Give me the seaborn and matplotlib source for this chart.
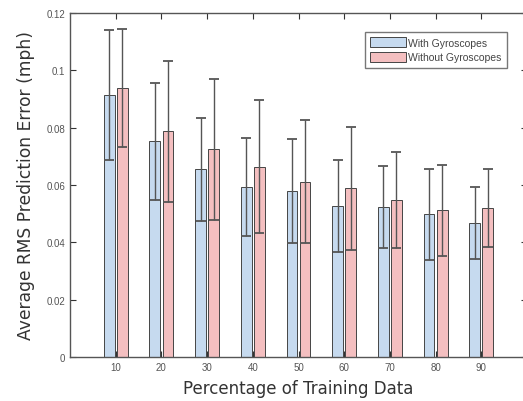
import matplotlib
matplotlib.use("Agg")
import matplotlib.pyplot as plt
import seaborn as sns
import pandas as pd
import numpy as np

percent = [10, 20, 30, 40, 50, 60, 70, 80, 90]
with_gyro = [0.0914, 0.0752, 0.0655, 0.0593, 0.0579, 0.0528, 0.0522, 0.0498, 0.0468]
without_gyro = [0.0938, 0.0788, 0.0724, 0.0664, 0.0612, 0.0588, 0.0548, 0.0512, 0.0520]
with_err = [0.0228, 0.0205, 0.0180, 0.0172, 0.0182, 0.0160, 0.0143, 0.0158, 0.0126]
without_err = [0.0207, 0.0246, 0.0245, 0.0232, 0.0216, 0.0213, 0.0167, 0.0158, 0.0137]
series = ["With Gyroscopes", "Without Gyroscopes"]
yticks = [0, 0.02, 0.04, 0.06, 0.08, 0.1, 0.12]

df = pd.DataFrame({
    "pct": [str(p) for p in percent] * 2,
    "val": with_gyro + without_gyro,
    "err": with_err + without_err,
    "series": [series[0]] * len(percent) + [series[1]] * len(percent),
})

sns.set_style("white")
plt.rcParams["font.family"] = ["DejaVu Sans"]

fig = plt.figure(figsize=(5.23, 4.02), dpi=100)
ax = fig.add_axes([70 / 523, 44 / 402, 457 / 523, 344 / 402])

colors = ["#c6daef", "#f4bfc0"]
sns.barplot(data=df, x="pct", y="val", hue="series", palette=colors, saturation=1,
            width=0.57, gap=0.17, edgecolor="#454545", linewidth=0.7,
            errorbar=None, ax=ax, legend=True)

# error bars at bar centers
bars = [p for p in ax.patches if p.get_height() > 0]
for s_i, s in enumerate(series):
    sub = df[df["series"] == s]
    sbars = bars[s_i * len(percent):(s_i + 1) * len(percent)]
    xs = [b.get_x() + b.get_width() / 2 for b in sbars]
    ax.errorbar(xs, sub["val"].values, yerr=sub["err"].values, fmt="none",
                ecolor="#555555", elinewidth=1.0, capsize=3.3, capthick=1.3, zorder=5)

ax.set_xlim(-1, 9)
ax.set_ylim(0, 0.12)
ax.set_yticks(yticks)
ax.set_yticklabels([f"{t:g}" for t in yticks])
ax.tick_params(direction="in", length=4, width=0.8, colors="#333333",
               top=True, right=True, bottom=True, left=True,
               labelsize=7, labelcolor="#555555")
for lab in ax.get_xticklabels() + ax.get_yticklabels():
    lab.set_fontfamily("Liberation Sans")
for sp in ax.spines.values():
    sp.set_color("#555555")
    sp.set_linewidth(1.0)

ax.set_xlabel("Percentage of Training Data", fontsize=12, color="#333333", labelpad=5)
ax.set_ylabel("Average RMS Prediction Error (mph)", fontsize=12.3, color="#333333", labelpad=8)

leg = ax.legend(loc="upper right", bbox_to_anchor=(0.956, 0.945), frameon=True,
                fancybox=False, prop={"family": "Liberation Sans", "size": 7.5},
                handlelength=3.4, handleheight=1.1, borderpad=0.5,
                labelspacing=0.4, handletextpad=0.25, borderaxespad=0)
leg.get_frame().set_edgecolor("#555555")
leg.get_frame().set_linewidth(1.0)
for t in leg.get_texts():
    t.set_color("#444444")

fig.savefig("out.png", dpi=100)
